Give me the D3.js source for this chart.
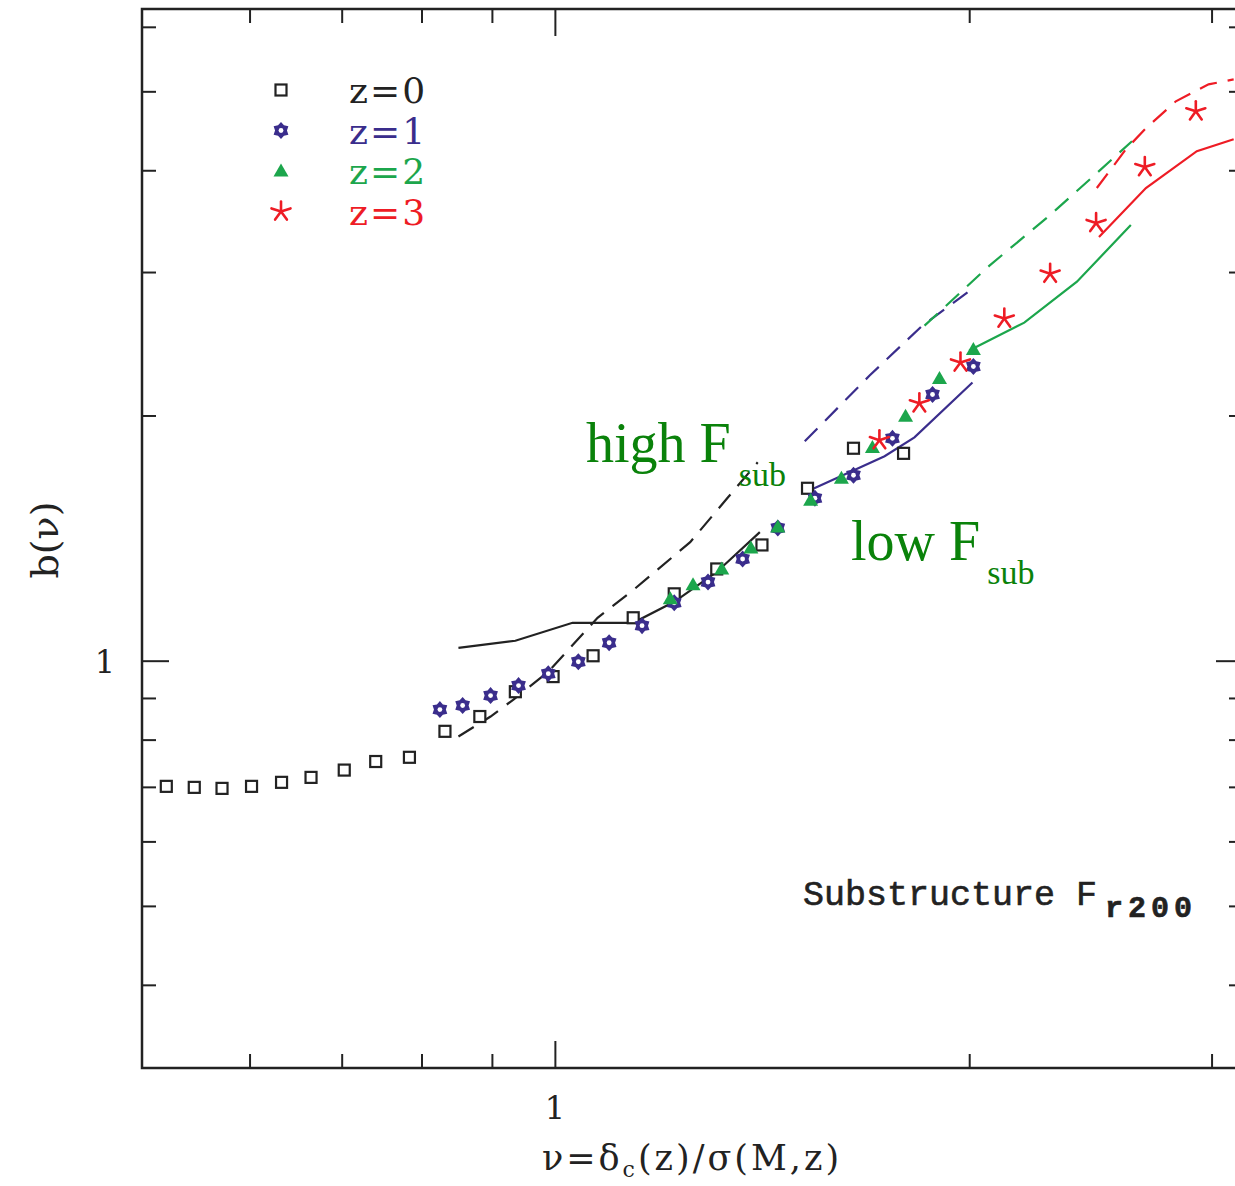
<!DOCTYPE html>
<html>
<head>
<meta charset="utf-8">
<script src="https://cdn.jsdelivr.net/npm/d3@7"></script>
<style>
  body { margin: 0; background: #fff; }
  svg { display: block; }
</style>
</head>
<body>
<div id="chart"></div>
<script>
// z=0 .. z=3 measured points (nu, b)
var nuZ0 = [0.522, 0.547, 0.573, 0.602, 0.633, 0.665, 0.703, 0.741, 0.784, 0.832, 0.882, 0.936, 0.997, 1.066, 1.140, 1.221, 1.311, 1.414, 1.526, 1.648, 1.792];
var bZ0  = [0.701, 0.699, 0.697, 0.701, 0.709, 0.719, 0.734, 0.752, 0.761, 0.819, 0.854, 0.916, 0.956, 1.014, 1.129, 1.208, 1.296, 1.387, 1.628, 1.823, 1.797];

var nuZ1 = [0.825, 0.857, 0.898, 0.941, 0.989, 1.040, 1.095, 1.157, 1.221, 1.292, 1.369, 1.452, 1.545, 1.648, 1.759, 1.881, 2.014];
var bZ1  = [0.871, 0.881, 0.906, 0.932, 0.964, 0.997, 1.052, 1.104, 1.178, 1.249, 1.333, 1.455, 1.583, 1.689, 1.875, 2.122, 2.297];

var nuZ2 = [1.213, 1.260, 1.322, 1.388, 1.452, 1.534, 1.615, 1.701, 1.798, 1.903, 2.014];
var bZ2  = [1.191, 1.239, 1.296, 1.375, 1.459, 1.574, 1.675, 1.827, 1.995, 2.221, 2.410];

var nuZ3 = [1.721, 1.840, 1.971, 2.121, 2.290, 2.473, 2.683, 2.922];
var bZ3  = [1.865, 2.070, 2.323, 2.630, 2.986, 3.446, 4.036, 4.725];

// low F_sub (solid) and high F_sub (dashed) model curves
var lowNuZ0 = [0.851, 0.936, 1.030, 1.140, 1.221, 1.311, 1.409];
var lowBZ0  = [1.037, 1.058, 1.113, 1.113, 1.181, 1.285, 1.438];
var highNuZ0 = [0.851, 0.898, 0.933, 0.989, 1.074, 1.140, 1.254, 1.336, 1.404];
var highBZ0  = [0.807, 0.854, 0.896, 0.969, 1.129, 1.221, 1.398, 1.587, 1.752];

var lowNuZ1 = [1.532, 1.637, 1.736, 1.825, 2.011];
var lowBZ1  = [1.619, 1.704, 1.782, 1.880, 2.195];
var highNuZ1 = [1.519, 1.693, 1.849, 2.011];
var highBZ1  = [1.859, 2.239, 2.578, 2.861];

var lowNuZ2 = [2.000, 2.193, 2.395, 2.621];
var lowBZ2  = [2.403, 2.600, 2.919, 3.426];
var highNuZ2 = [1.856, 2.068, 2.286, 2.485, 2.626];
var highBZ2  = [2.578, 3.053, 3.516, 3.990, 4.342];

var lowNuZ3 = [2.485, 2.688, 2.927, 3.113];
var lowBZ3  = [3.313, 3.804, 4.222, 4.367];
var highNuZ3 = [2.476, 2.600, 2.688, 2.826, 2.985, 3.113];
var highBZ3  = [3.804, 4.246, 4.504, 4.861, 5.099, 5.171];

var legendLabels = ["z=0", "z=1", "z=2", "z=3"];
var xMinorTicks = [0.6, 0.7, 0.8, 0.9, 2, 3];
var yMinorTicks = [0.4, 0.5, 0.6, 0.7, 0.8, 0.9, 2, 3, 4, 5, 6];

var colors = ["#222222", "#3a2d8c", "#1ca64c", "#ee1c25"];
var annotGreen = "#0a820a";

var W = 1235, H = 1186;
// note: can't call these top/left - window.top is read-only
var plotL = 142, plotR = 1243, plotT = 9, plotB = 1068;

var svg = d3.select("#chart").append("svg")
  .attr("width", W).attr("height", H);

var x = d3.scaleLog().domain([0.5012, 3.162]).range([plotL, plotR]);
var y = d3.scaleLog().domain([0.3162, 6.31]).range([plotB, plotT]);

// frame
svg.append("rect")
  .attr("x", plotL).attr("y", plotT)
  .attr("width", plotR - plotL).attr("height", plotB - plotT)
  .attr("fill", "none").attr("stroke", "#222").attr("stroke-width", 2.5);

// ticks (all pointing inwards, on all four sides)
function tickGroup(axis, tx, ty) {
  var g = svg.append("g").attr("transform", "translate(" + tx + "," + ty + ")").call(axis);
  g.select(".domain").remove();
  g.selectAll(".tick line").attr("stroke", "#222").attr("stroke-width", 2);
  g.selectAll(".tick text").remove();
  return g;
}
tickGroup(d3.axisBottom(x).tickValues(xMinorTicks).tickSize(-14), 0, plotB);
tickGroup(d3.axisBottom(x).tickValues([1]).tickSize(-27), 0, plotB);
tickGroup(d3.axisTop(x).tickValues(xMinorTicks).tickSize(-14), 0, plotT);
tickGroup(d3.axisTop(x).tickValues([1]).tickSize(-27), 0, plotT);
tickGroup(d3.axisLeft(y).tickValues(yMinorTicks).tickSize(-14), plotL, 0);
tickGroup(d3.axisLeft(y).tickValues([1]).tickSize(-27), plotL, 0);
tickGroup(d3.axisRight(y).tickValues(yMinorTicks).tickSize(-14), plotR, 0);
tickGroup(d3.axisRight(y).tickValues([1]).tickSize(-27), plotR, 0);

// tick labels
svg.append("text").attr("x", x(1)).attr("y", 1119)
  .attr("text-anchor", "middle")
  .style("font-family", "'DejaVu Serif', serif").style("font-size", "32px")
  .attr("fill", "#222").text("1");
svg.append("text").attr("x", 105).attr("y", y(1) + 12)
  .attr("text-anchor", "middle")
  .style("font-family", "'DejaVu Serif', serif").style("font-size", "32px")
  .attr("fill", "#222").text("1");

// axis titles
var xt = svg.append("text").attr("x", 692).attr("y", 1170)
  .attr("text-anchor", "middle")
  .style("font-family", "'DejaVu Serif', serif").style("font-size", "35px")
  .style("letter-spacing", "3px")
  .attr("fill", "#222");
xt.append("tspan").text("\u03bd=\u03b4");
xt.append("tspan").attr("dy", 7).style("font-size", "22px").text("c");
xt.append("tspan").attr("dy", -7).text("(z)/\u03c3(M,z)");

svg.append("text")
  .attr("transform", "translate(58,540) rotate(-90)")
  .attr("text-anchor", "middle")
  .style("font-family", "'DejaVu Serif', serif").style("font-size", "38px")
  .attr("fill", "#222").text("b(\u03bd)");

// model lines
var line = d3.line().x(function(d) { return x(d[0]); }).y(function(d) { return y(d[1]); });
function zip(a, b) { return a.map(function(v, i) { return [v, b[i]]; }); }

var lowSets = [[lowNuZ0, lowBZ0], [lowNuZ1, lowBZ1], [lowNuZ2, lowBZ2], [lowNuZ3, lowBZ3]];
var highSets = [[highNuZ0, highBZ0], [highNuZ1, highBZ1], [highNuZ2, highBZ2], [highNuZ3, highBZ3]];

var plot = svg.append("g");
highSets.forEach(function(s, i) {
  plot.append("path").datum(zip(s[0], s[1]))
    .attr("d", line).attr("fill", "none")
    .attr("stroke", colors[i]).attr("stroke-width", 2.2)
    .attr("stroke-dasharray", "18,11");
});
lowSets.forEach(function(s, i) {
  plot.append("path").datum(zip(s[0], s[1]))
    .attr("d", line).attr("fill", "none")
    .attr("stroke", colors[i]).attr("stroke-width", 2.2);
});

// marker drawers
function hexStar(r) {
  var p = [];
  for (var k = 0; k < 12; k++) {
    var a = Math.PI / 6 * k - Math.PI / 2;
    var rr = (k % 2 === 0) ? r : r * 0.7;
    p.push([rr * Math.cos(a), rr * Math.sin(a)]);
  }
  return "M" + p.join("L") + "Z";
}
function drawMarker(g, type, cx, cy) {
  var m = g.append("g").attr("transform", "translate(" + cx + "," + cy + ")");
  if (type === 0) {
    m.append("rect").attr("x", -5.5).attr("y", -5.5).attr("width", 11).attr("height", 11)
      .attr("fill", "#fff").attr("stroke", colors[0]).attr("stroke-width", 2.2);
  } else if (type === 1) {
    m.append("path").attr("d", hexStar(8.5)).attr("fill", colors[1]);
    m.append("circle").attr("r", 2.4).attr("fill", "#fff");
  } else if (type === 2) {
    m.append("path").attr("d", "M0,-7.5L7.5,5.5L-7.5,5.5Z").attr("fill", colors[2]);
  } else {
    for (var k = 0; k < 5; k++) {
      var a = -Math.PI / 2 + k * 2 * Math.PI / 5;
      m.append("line").attr("x1", 0).attr("y1", 0)
        .attr("x2", 10 * Math.cos(a)).attr("y2", 10 * Math.sin(a))
        .attr("stroke", colors[3]).attr("stroke-width", 2.6).attr("stroke-linecap", "round");
    }
  }
}

var pointSets = [[nuZ0, bZ0], [nuZ1, bZ1], [nuZ2, bZ2], [nuZ3, bZ3]];
pointSets.forEach(function(s, i) {
  var g = plot.append("g");
  zip(s[0], s[1]).forEach(function(d) { drawMarker(g, i, x(d[0]), y(d[1])); });
});

// legend
var legend = svg.append("g");
legendLabels.forEach(function(lab, i) {
  var ly = 90 + i * 40.5;
  drawMarker(legend, i, 281, ly);
  legend.append("text").attr("x", 349).attr("y", ly + 13)
    .style("font-family", "'DejaVu Serif', serif").style("font-size", "36px")
    .style("letter-spacing", "2px")
    .attr("fill", colors[i]).text(lab);
});

// annotations
function subLabel(tx, ty, main, sub, size, subSize, dx, dy) {
  var t = svg.append("text").attr("x", tx).attr("y", ty)
    .style("font-family", "'Liberation Serif', 'Times New Roman', serif")
    .style("font-size", size + "px").attr("fill", annotGreen);
  t.append("tspan").text(main);
  t.append("tspan").attr("dx", dx).attr("dy", dy).style("font-size", subSize + "px").text(sub);
}
subLabel(586, 462, "high F", "sub", 56, 34, 8, 24);
subLabel(851, 560, "low F", "sub", 56, 34, 7, 24);

var sub = svg.append("text").attr("x", 803).attr("y", 905)
  .style("font-family", "'Liberation Mono', monospace")
  .style("font-size", "35px").attr("fill", "#222")
  .attr("stroke", "#222").attr("stroke-width", 0.6);
sub.append("tspan").text("Substructure F");
sub.append("tspan").attr("dx", 8).attr("dy", 12)
  .style("font-size", "30px").style("font-weight", "bold").style("letter-spacing", "5px")
  .text("r200");
</script>
</body>
</html>
